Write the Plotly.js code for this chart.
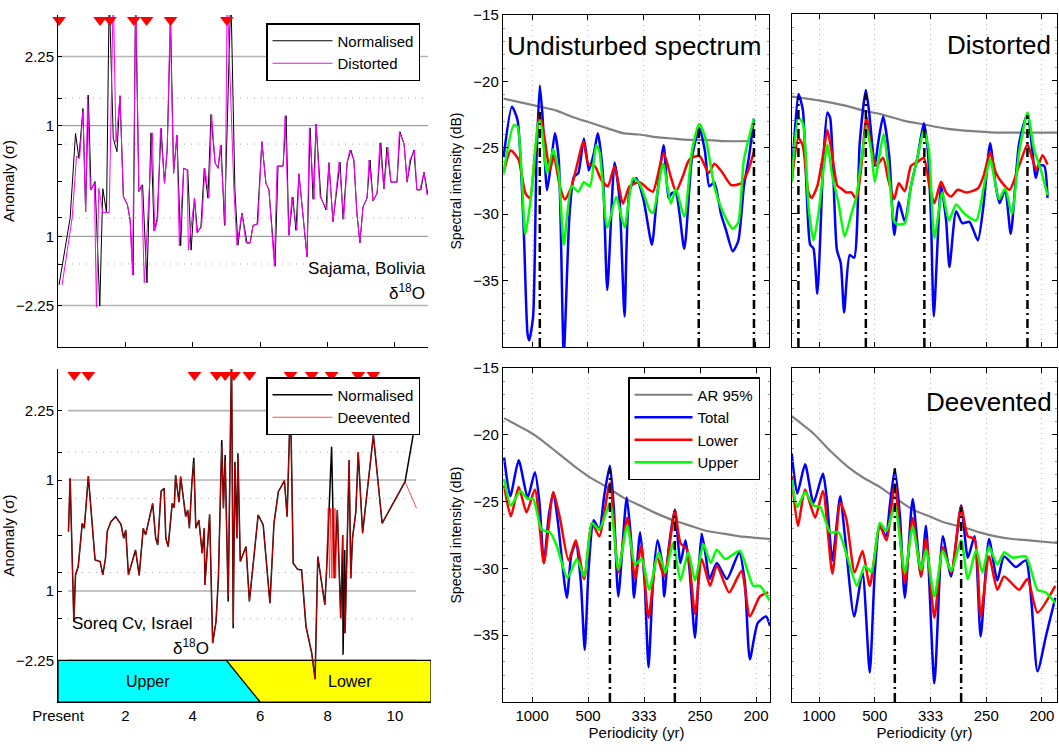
<!DOCTYPE html>
<html><head><meta charset="utf-8">
<script src="https://cdn.plot.ly/plotly-3.0.1.min.js"></script>
<style>html,body{margin:0;padding:0;background:#fff}#chart{width:1059px;height:752px}</style>
</head><body><div id="chart"></div>
<script>
// ---------------- Sajama (top-left) ----------------
const sajT = [0.03,0.36,0.52,0.62,0.74,0.82,0.90,0.98,1.10,1.24,1.33,1.44,1.52,1.64,1.75,1.84,1.94,2.06,2.14,2.23,2.30,2.40,2.51,2.64,2.76,2.85,2.94,3.06,3.16,3.24,3.34,3.43,3.53,3.64,3.73,3.85,3.95,4.05,4.14,4.24,4.34,4.45,4.54,4.66,4.75,4.84,4.94,5.13,5.25,5.34,5.46,5.61,5.70,5.79,5.91,6.05,6.17,6.26,6.44,6.53,6.68,6.77,6.85,6.97,7.06,7.15,7.39,7.48,7.57,7.66,7.80,7.95,8.04,8.16,8.37,8.46,8.58,8.69,8.78,8.87,8.96,9.05,9.17,9.26,9.35,9.47,9.58,9.67,9.76,9.88,10.06,10.15,10.27,10.36,10.47,10.56,10.65,10.77,10.86,10.98];
const sajNormalised = [-1.88,-0.67,0.86,0.41,1.31,-0.55,1.55,-0.16,-0.01,-2.26,-0.14,-0.57,3.4,0.77,0.53,1.54,-0.28,-0.43,-0.70,-1.70,3.4,-0.19,-0.07,-1.84,0.87,-0.90,-0.69,0.95,-0.04,0.56,2.95,0.14,0.83,-1.17,0.23,0.20,-1.25,-0.31,-0.93,-0.83,0.23,-0.31,1.20,0.33,0.23,0.65,-0.80,3.4,-0.16,-1.16,-0.58,-1.12,-1.12,-0.80,-0.78,0.71,-0.04,-0.16,-1.54,0.27,0.27,1.18,-0.98,-0.29,-0.89,0.13,-1.37,0.96,-0.33,1.03,-0.29,-0.52,0.33,-0.74,0.34,-0.69,0.33,0.56,0.38,-0.58,-1.12,-0.47,-0.31,0.38,-0.36,-0.22,0.69,-0.14,0.61,-0.02,-0.02,0.89,0.67,-0.02,0.38,0.56,-0.16,-0.16,0.16,-0.25];
const sajDistT = [0.12,0.42,0.55,0.64,0.74,0.82,0.88,0.96,1.08,1.14,1.21,1.33,1.52,1.64,1.72,1.84,1.94,2.06,2.14,2.21,2.31,2.40,2.48,2.56,2.80,2.87,2.96,3.04,3.16,3.24,3.33,3.43,3.53,3.60,3.73,3.83,3.87,4.05,4.12,4.26,4.36,4.48,4.56,4.66,4.75,4.82,4.96,5.02,5.22,5.31,5.46,5.58,5.70,5.79,5.93,6.05,6.17,6.26,6.42,6.50,6.68,6.74,6.85,6.94,7.09,7.15,7.39,7.46,7.60,7.66,7.78,7.98,8.04,8.16,8.34,8.48,8.58,8.66,8.78,8.87,8.96,9.05,9.17,9.23,9.35,9.47,9.55,9.67,9.79,9.88,10.06,10.13,10.27,10.36,10.44,10.58,10.65,10.74,10.86,10.95];
const sajDistorted = [-1.88,-0.67,0.45,0.41,1.25,-0.55,1.55,-0.16,-0.05,-2.28,-0.13,-0.57,-0.57,3.4,0.70,1.54,-0.28,-0.43,-0.70,-1.70,3.4,-0.19,-0.07,-1.84,0.87,-0.90,-0.69,0.95,-0.04,0.56,2.95,0.14,0.83,-1.17,0.23,0.20,-1.25,-0.31,-0.93,-0.83,0.23,-0.31,1.20,0.33,0.23,0.65,-0.80,3.4,-0.16,-1.16,-0.58,-1.12,-1.12,-0.80,-0.78,0.71,-0.04,-0.16,-1.54,0.27,0.27,1.18,-0.98,-0.29,-0.89,0.13,-1.37,0.96,-0.33,1.03,-0.29,-0.52,0.33,-0.74,0.34,-0.69,0.33,0.56,0.38,-0.58,-1.12,-0.47,-0.31,0.38,-0.36,-0.22,0.69,-0.14,0.61,-0.02,-0.02,0.89,0.67,-0.02,0.38,0.56,-0.16,-0.16,0.16,-0.25];
const sajEvents = [0.03,1.25,1.54,2.25,2.63,3.34,5.01];

// ---------------- Soreq (bottom-left) ----------------
const soreqT = [0.31,0.36,0.47,0.52,0.60,0.72,0.78,0.90,1.10,1.25,1.33,1.41,1.46,1.57,1.71,1.87,1.95,2.01,2.09,2.30,2.41,2.53,2.60,2.81,2.90,2.96,3.06,3.15,3.20,3.27,3.39,3.45,3.49,3.59,3.64,3.79,3.85,3.90,3.97,4.03,4.09,4.18,4.28,4.34,4.36,4.50,4.59,4.69,4.76,4.86,4.91,4.96,5.05,5.15,5.20,5.25,5.31,5.34,5.41,5.58,5.68,5.94,6.09,6.29,6.41,6.54,6.72,6.80,6.90,6.98,7.11,7.23,7.36,7.53,7.63,7.71,7.92,7.99,8.12,8.20,8.29,8.39,8.45,8.46,8.51,8.52,8.64,8.69,8.74,8.84,8.91,9.04,9.36,9.62,10.30,10.68];
const soreqNormalised = [0.07,1.03,-1.55,-0.71,-0.56,0.22,0.13,1.07,-0.44,-0.47,-0.71,-0.41,0.07,0.25,0.34,0.20,-0.05,0.10,-0.71,-0.26,-0.72,0.13,0.01,0.58,-0.05,-0.17,0.80,0.85,-0.05,-0.20,0.58,0.50,1.09,0.60,1.06,0.34,0.46,0.13,0.91,1.40,0.13,0.28,-0.32,0.13,-0.89,0.38,-1.94,-1.55,-0.77,1.72,0.49,1.45,-1.19,3.3,-1.67,1.33,-0.05,1.48,-0.47,-0.20,-1.19,0.37,0.19,-1.22,0.22,0.79,0.99,0.34,2.5,-0.50,-0.61,-0.62,-1.64,-2.12,-2.59,-0.38,-1.25,-0.38,1.60,-0.77,0.46,-1.49,0.01,-2.15,-0.26,-1.76,1.36,-0.77,-0.05,0.43,1.50,0.04,1.81,0.22,0.97,2.3];
const soreqDevT = [0.31,0.36,0.47,0.52,0.60,0.72,0.78,0.90,1.10,1.25,1.33,1.41,1.46,1.57,1.71,1.87,1.95,2.01,2.09,2.30,2.41,2.53,2.60,2.81,2.90,2.96,3.06,3.15,3.20,3.27,3.39,3.45,3.49,3.59,3.64,3.79,3.85,3.90,3.97,4.03,4.09,4.18,4.28,4.34,4.36,4.50,4.59,4.69,4.76,4.86,4.91,4.96,5.05,5.15,5.20,5.25,5.31,5.34,5.41,5.58,5.68,5.94,6.09,6.29,6.41,6.54,6.72,6.80,6.90,6.98,7.11,7.23,7.36,7.53,7.63,7.71,7.92,7.97,8.02,8.06,8.09,8.13,8.16,8.20,8.22,8.24,8.29,8.39,8.45,8.52,8.64,8.69,8.74,8.84,8.91,9.04,9.36,9.62,10.30,10.64];
const soreqDeevented = [0.07,1.03,-1.55,-0.71,-0.56,0.22,0.13,1.07,-0.44,-0.47,-0.71,-0.41,0.07,0.25,0.34,0.20,-0.05,0.10,-0.71,-0.26,-0.72,0.13,0.01,0.58,-0.05,-0.17,0.80,0.85,-0.05,-0.20,0.58,0.50,1.09,0.60,1.06,0.34,0.46,0.13,0.91,1.30,0.13,0.28,-0.32,0.13,-0.89,0.38,-1.94,-1.55,-0.77,1.60,0.49,1.35,-1.10,3.3,-1.60,1.25,-0.05,1.40,-0.47,-0.20,-1.19,0.37,0.19,-1.22,0.22,0.79,0.99,0.34,2.5,-0.50,-0.61,-0.62,-1.64,-2.12,-2.59,-0.38,-1.25,-0.62,0.49,-0.77,0.49,-0.77,0.49,-0.77,0.49,-0.77,0.46,-1.49,0.01,-1.76,1.36,-0.77,-0.05,0.43,1.50,0.04,1.81,0.22,0.97,0.49];
const soreqEvents = [0.48,0.90,4.05,4.71,4.96,5.22,5.68,6.90,7.53,8.12,8.91,9.36];
const zoneSplit = [5, 6]; // Upper/Lower boundary (kyr) at top and bottom of the band

// ---------------- Spectra ----------------
const periodTicks = [1,2,3,4,5];
const periodLabels = ['1000','500','333','250','200'];

// Undisturbed
const undArF = [0.49,1.14,1.44,1.74,2.04,2.33,2.63,2.93,3.23,3.52,3.82,4.12,4.42,4.98];
const undAr = [-21.3,-21.9,-22.2,-22.7,-23.1,-23.5,-23.9,-24.0,-24.2,-24.3,-24.4,-24.4,-24.5,-24.5];
const undTotalF = [0.49,0.64,0.74,0.85,0.92,0.95,1.02,1.08,1.14,1.19,1.27,1.34,1.41,1.48,1.57,1.67,1.75,1.83,1.93,2.02,2.11,2.18,2.27,2.35,2.48,2.57,2.66,2.75,2.87,3.00,3.15,3.23,3.36,3.45,3.51,3.58,3.73,3.87,4.00,4.10,4.18,4.27,4.39,4.48,4.60,4.70,4.80,4.89,4.98];
const undTotal = [-25.7,-21.9,-22.9,-31.0,-39.0,-39.5,-37.7,-25.9,-20.3,-22.7,-28.2,-26.2,-23.9,-25.9,-40.5,-30.2,-27.2,-26.9,-24.3,-26.7,-25.4,-23.9,-26.9,-35.7,-26.1,-28.9,-37.7,-28.2,-27.3,-28.9,-32.3,-29.2,-24.8,-28.8,-28.4,-28.4,-32.6,-25.7,-23.5,-25.2,-27.9,-27.6,-30.0,-31.2,-32.8,-32.0,-27.9,-25.7,-22.8];
const undLowerF = [0.49,0.62,0.76,0.88,0.96,1.05,1.14,1.23,1.32,1.39,1.50,1.59,1.71,1.83,1.92,2.01,2.13,2.24,2.36,2.48,2.63,2.75,2.93,3.08,3.17,3.36,3.49,3.58,3.70,3.82,4.00,4.17,4.27,4.42,4.57,4.74,4.86,4.98];
const undLower = [-26.9,-25.2,-25.9,-28.4,-28.8,-25.7,-22.4,-24.4,-26.7,-25.6,-27.9,-28.9,-27.9,-25.9,-24.5,-26.2,-26.4,-27.4,-27.9,-26.4,-29.2,-27.9,-27.6,-28.1,-28.3,-25.4,-27.2,-28.3,-27.2,-25.9,-25.6,-26.9,-26.2,-26.9,-27.8,-27.7,-26.9,-25.3];
const undUpperF = [0.49,0.67,0.74,0.88,0.99,1.11,1.15,1.27,1.38,1.48,1.57,1.71,1.83,1.93,2.04,2.15,2.21,2.35,2.51,2.66,2.81,2.93,3.11,3.17,3.35,3.49,3.58,3.73,3.87,4.00,4.12,4.27,4.42,4.60,4.70,4.80,4.98];
const undUpper = [-26.9,-23.3,-23.4,-31.5,-28.4,-23.2,-23.0,-26.9,-25.1,-26.9,-32.3,-27.9,-28.3,-27.6,-27.9,-24.8,-25.3,-31.0,-28.7,-31.0,-27.3,-27.7,-29.7,-29.9,-26.2,-29.2,-28.1,-30.2,-25.2,-23.2,-24.4,-27.9,-29.8,-31.1,-30.6,-25.9,-22.8];
const undEvents = [1.14,3.99,4.98];
const undEventTop = [-22.3,-23.6,-22.9];

// Distorted
const disArF = [0.51,1.02,1.49,1.84,2.09,2.51,2.89,3.28,3.76,4.17,4.59,5.10,5.27];
const disAr = [-21.2,-21.5,-21.9,-22.3,-22.5,-23.0,-23.3,-23.6,-23.8,-23.9,-23.9,-23.9,-23.9];
const disTotalF = [0.51,0.63,0.71,0.84,0.90,0.97,1.08,1.15,1.20,1.32,1.39,1.45,1.55,1.63,1.73,1.84,1.90,2.00,2.06,2.15,2.26,2.35,2.43,2.54,2.65,2.77,2.88,2.95,3.01,3.06,3.19,3.28,3.34,3.46,3.57,3.70,3.85,3.95,4.07,4.17,4.24,4.34,4.44,4.59,4.74,4.89,4.95,5.04,5.10];
const disTotal = [-27.6,-21.0,-22.2,-32.3,-32.6,-36.0,-25.7,-22.4,-22.8,-32.7,-33.7,-37.4,-33.1,-33.3,-24.7,-20.7,-22.4,-26.4,-24.7,-22.7,-25.7,-31.6,-29.1,-30.6,-27.9,-25.7,-23.2,-25.1,-30.5,-37.7,-27.9,-30.5,-34.0,-29.8,-30.7,-30.6,-32.0,-29.4,-24.7,-27.9,-29.2,-28.2,-31.5,-24.7,-22.5,-27.3,-26.4,-26.4,-28.8];
const disLowerF = [0.51,0.63,0.71,0.81,0.87,0.97,1.08,1.15,1.24,1.33,1.40,1.49,1.58,1.67,1.76,1.85,1.94,2.03,2.15,2.24,2.35,2.43,2.54,2.65,2.77,2.88,2.98,3.07,3.19,3.28,3.37,3.49,3.64,3.85,3.95,4.07,4.17,4.29,4.42,4.59,4.74,4.83,4.90,5.01,5.10];
const disLower = [-27.6,-24.3,-24.9,-28.4,-28.8,-27.9,-25.4,-23.7,-25.7,-27.9,-28.1,-28.4,-28.4,-28.9,-26.4,-22.7,-25.2,-26.4,-25.8,-27.4,-28.9,-27.7,-28.3,-26.4,-26.1,-25.8,-27.9,-29.2,-27.6,-28.4,-28.7,-28.2,-28.4,-28.1,-27.2,-25.4,-26.9,-27.7,-28.2,-26.4,-24.8,-25.9,-26.7,-25.6,-26.3];
const disUpperF = [0.51,0.63,0.71,0.81,0.90,0.99,1.08,1.15,1.24,1.35,1.46,1.58,1.67,1.76,1.85,1.94,2.00,2.08,2.16,2.27,2.35,2.43,2.54,2.65,2.77,2.88,2.97,3.07,3.21,3.33,3.46,3.61,3.82,3.96,4.07,4.23,4.34,4.46,4.59,4.74,4.86,4.98,5.10];
const disUpper = [-27.6,-22.8,-23.2,-29.4,-32.0,-30.0,-26.7,-24.8,-27.2,-29.2,-31.7,-30.0,-28.7,-25.9,-23.5,-25.4,-27.6,-25.7,-24.0,-27.7,-30.6,-30.8,-30.7,-27.9,-25.7,-23.7,-25.2,-31.8,-28.4,-30.5,-29.3,-30.0,-30.5,-27.9,-25.9,-28.9,-28.1,-30.0,-25.4,-22.4,-25.2,-26.7,-28.6];
const disEvents = [0.63,1.84,2.89,4.74];
const disEventTop = [-21.3,-21.0,-23.5,-22.6];

// Soreq normalised (bottom-middle)
const norArF = [0.50,0.92,1.14,1.44,1.74,2.04,2.33,2.63,2.93,3.23,3.52,3.82,4.12,4.42,4.71,5.25];
const norAr = [-18.75,-19.7,-20.3,-21.3,-22.3,-23.2,-23.9,-24.7,-25.3,-25.9,-26.4,-26.8,-27.2,-27.4,-27.6,-27.8];
const norTotalF = [0.50,0.61,0.76,0.92,1.05,1.13,1.21,1.30,1.38,1.46,1.62,1.70,1.78,1.87,1.94,2.01,2.10,2.20,2.29,2.39,2.46,2.54,2.69,2.77,2.82,2.93,3.01,3.08,3.16,3.24,3.32,3.36,3.44,3.55,3.65,3.74,3.81,3.91,3.98,4.03,4.10,4.17,4.30,4.48,4.70,4.80,4.89,5.03,5.18,5.25];
const norTotal = [-21.7,-24.6,-21.9,-24.7,-22.8,-25.0,-29.6,-26.0,-24.3,-26.5,-32.2,-29.0,-28.1,-31.0,-36.1,-30.0,-26.4,-27.1,-24.5,-22.3,-25.5,-32.1,-24.7,-28.0,-32.2,-27.3,-31.0,-37.4,-31.0,-27.9,-29.5,-32.1,-28.5,-25.6,-29.6,-27.9,-30.0,-35.2,-30.0,-27.4,-29.0,-30.8,-29.6,-30.8,-28.8,-31.0,-36.8,-34.1,-33.6,-34.3];
const norLowerF = [0.50,0.62,0.76,0.90,1.05,1.21,1.38,1.50,1.65,1.78,1.93,2.07,2.20,2.39,2.54,2.70,2.84,2.95,3.08,3.23,3.36,3.55,3.65,3.77,3.91,4.03,4.18,4.30,4.52,4.74,4.89,5.07,5.22];
const norLower = [-23.8,-26.1,-23.9,-25.8,-24.1,-29.6,-24.3,-26.3,-29.4,-27.9,-30.8,-26.6,-27.6,-23.6,-30.3,-26.2,-30.8,-28.3,-33.7,-29.1,-30.6,-25.7,-28.1,-28.6,-33.4,-29.3,-31.3,-29.8,-31.8,-30.2,-33.6,-32.1,-31.8];
const norUpperF = [0.50,0.62,0.79,0.92,1.02,1.17,1.32,1.44,1.63,1.80,1.93,2.07,2.20,2.39,2.54,2.70,2.84,2.96,3.09,3.26,3.38,3.52,3.65,3.79,3.91,4.06,4.19,4.30,4.45,4.71,4.95,5.07,5.24];
const norUpper = [-23.3,-25.3,-24.2,-24.8,-24.8,-27.1,-27.3,-28.3,-30.7,-29.3,-30.6,-26.6,-27.1,-25.1,-30.1,-26.8,-29.7,-29.3,-31.6,-28.8,-30.3,-28.1,-30.9,-28.8,-30.9,-28.2,-29.6,-28.6,-29.3,-28.7,-31.3,-31.3,-32.4];
const norEvents = [2.39,3.55];
const norEventTop = [-22.5,-25.7];

// Deevented (bottom-right)
const devArF = [0.51,0.90,1.20,1.49,1.79,2.09,2.39,2.68,2.98,3.28,3.58,3.88,4.17,4.47,4.77,5.27];
const devAr = [-18.6,-19.9,-21.2,-22.3,-23.2,-23.9,-24.8,-25.6,-26.1,-26.6,-26.9,-27.3,-27.6,-27.8,-27.9,-28.1];
const devTotalF = [0.51,0.61,0.75,0.90,1.07,1.14,1.24,1.38,1.46,1.63,1.78,1.91,2.00,2.09,2.20,2.27,2.36,2.45,2.54,2.68,2.83,2.92,3.07,3.22,3.37,3.55,3.67,3.79,3.90,4.05,4.20,4.32,4.53,4.71,4.92,5.07,5.24];
const devTotal = [-21.4,-24.4,-22.2,-25.1,-22.9,-24.8,-29.4,-24.6,-27.4,-33.6,-30.3,-37.8,-30.3,-26.8,-27.6,-25.3,-22.6,-26.0,-32.2,-24.8,-30.6,-26.8,-38.6,-27.6,-30.6,-25.3,-29.2,-27.6,-35.1,-27.8,-30.9,-29.1,-29.9,-29.4,-37.7,-35.1,-32.2];
const devLowerF = [0.51,0.62,0.75,0.93,1.07,1.24,1.38,1.49,1.64,1.78,1.91,2.09,2.21,2.36,2.54,2.68,2.83,2.92,3.07,3.22,3.37,3.55,3.67,3.79,3.90,4.05,4.20,4.32,4.59,4.74,4.92,5.24];
const devLower = [-23.1,-26.8,-24.1,-26.2,-24.2,-30.4,-25.1,-26.3,-30.3,-28.7,-31.3,-26.8,-27.9,-23.7,-31.1,-26.2,-30.6,-27.8,-33.7,-28.4,-30.3,-25.4,-27.6,-27.8,-33.6,-29.1,-31.6,-30.6,-31.6,-30.8,-33.3,-31.3];
const devUpperF = [0.51,0.61,0.75,0.90,1.02,1.20,1.35,1.49,1.68,1.82,1.94,2.09,2.21,2.36,2.54,2.68,2.83,2.92,3.07,3.22,3.37,3.55,3.67,3.82,3.93,4.05,4.20,4.32,4.47,4.71,4.92,5.07,5.24];
const devUpper = [-23.4,-25.4,-24.3,-25.3,-25.4,-27.3,-27.3,-28.9,-31.3,-29.8,-30.3,-26.6,-27.2,-25.3,-30.3,-26.9,-30.1,-28.6,-32.1,-28.7,-30.2,-27.9,-30.8,-28.6,-30.3,-28.4,-29.7,-28.8,-29.2,-29.1,-31.6,-31.8,-32.6];
const devEvents = [2.36,3.55];
const devEventTop = [-22.5,-25.4];

// ---------------- helpers ----------------
const W = 1059, H = 752;
const px = x => x / W;
const py = y => 1 - y / H;
const FONT = 'Liberation Sans, Arial, Helvetica, sans-serif';
const BLUE = '#0000ff', RED = '#ff0000', GREEN = '#00ff00', GRAY = '#808080';

const traces = [];
function addLine(x, y, ax, color, width, name, legend, extra) {
  const t = Object.assign({
    type: 'scatter', mode: 'lines', x: x, y: y,
    xaxis: 'x' + ax, yaxis: 'y' + ax,
    line: {color: color, width: width},
    name: name || 'event', showlegend: !!legend, hoverinfo: 'skip'
  }, extra || {});
  if (legend) t.legend = legend;
  traces.push(t);
}

// left panels
addLine(sajT, sajNormalised, '', '#000000', 1, 'Normalised', 'legend');
addLine(sajDistT, sajDistorted, '', '#ff00ff', 1, 'Distorted', 'legend');
traces.push({type:'scatter', mode:'markers', x: sajEvents, y: sajEvents.map(() => 2.91),
  xaxis:'x', yaxis:'y', marker:{symbol:'triangle-down', size:12, color:'#ff0000'},
  cliponaxis:false, showlegend:false, hoverinfo:'skip', name:'events'});

addLine(soreqT, soreqNormalised, '2', '#000000', 1.5, 'Normalised', 'legend2');
addLine(soreqDevT, soreqDeevented, '2', '#ff0000', 0.7, 'Deevented', 'legend2');
traces.push({type:'scatter', mode:'markers', x: soreqEvents, y: soreqEvents.map(() => 2.89),
  xaxis:'x2', yaxis:'y2', marker:{symbol:'triangle-down', size:12, color:'#ff0000'},
  cliponaxis:false, showlegend:false, hoverinfo:'skip', name:'events'});

// spectral panels
const spectra = [
  {ax:'3', ar:[undArF,undAr], tot:[undTotalF,undTotal], low:[undLowerF,undLower], up:[undUpperF,undUpper], ev:undEvents, evTop:undEventTop},
  {ax:'4', ar:[disArF,disAr], tot:[disTotalF,disTotal], low:[disLowerF,disLower], up:[disUpperF,disUpper], ev:disEvents, evTop:disEventTop},
  {ax:'5', ar:[norArF,norAr], tot:[norTotalF,norTotal], low:[norLowerF,norLower], up:[norUpperF,norUpper], ev:norEvents, evTop:norEventTop, legend:'legend3'},
  {ax:'6', ar:[devArF,devAr], tot:[devTotalF,devTotal], low:[devLowerF,devLower], up:[devUpperF,devUpper], ev:devEvents, evTop:devEventTop}
];
const spl = {shape:'spline', smoothing:0.6};
spectra.forEach(s => {
  addLine(s.ar[0], s.ar[1], s.ax, GRAY, 2.2, 'AR 95%', s.legend, {line:Object.assign({color:GRAY, width:2.2}, spl)});
  addLine(s.tot[0], s.tot[1], s.ax, BLUE, 2.5, 'Total', s.legend, {line:Object.assign({color:BLUE, width:2.5}, spl)});
  addLine(s.low[0], s.low[1], s.ax, RED, 2.5, 'Lower', s.legend, {line:Object.assign({color:RED, width:2.5}, spl)});
  addLine(s.up[0], s.up[1], s.ax, GREEN, 2.5, 'Upper', s.legend, {line:Object.assign({color:GREEN, width:2.5}, spl)});
  s.ev.forEach((f, i) => {
    addLine([f, f], [-40, s.evTop[i]], s.ax, '#000000', 2.5, 'event', null, {line:{color:'#000000', width:2.5, dash:'9px,4px,2px,4px'}});
  });
});

// ---------------- shapes (gridlines, band) ----------------
const shapes = [];
const solidGrid = [-2.25, -1, 1, 2.25];
const dottedGrid = [-1.5, -0.667, 0.667, 1.5];
[['', 0, 10.98], ['2', 0.3, 10.62]].forEach(([a, x0, x1]) => {
  solidGrid.forEach(v => shapes.push({type:'line', xref:'x'+a, yref:'y'+a, x0:x0, x1:x1, y0:v, y1:v, layer:'below',
    line:{color: Math.abs(v) > 2 ? '#b4b4b4' : '#8a8a8a', width: Math.abs(v) > 2 ? 1.6 : 1}}));
  dottedGrid.forEach(v => shapes.push({type:'line', xref:'x'+a, yref:'y'+a, x0:x0, x1:x1, y0:v, y1:v, layer:'below',
    line:{color:'#a8a8a8', width:1, dash:'1px,6px'}}));
});
// Upper / Lower band
const bandTop = -2.25, bandBot = -3, xEnd = 11.07;
shapes.push({type:'path', xref:'x2', yref:'y2', layer:'below',
  path:`M0,${bandTop} L${zoneSplit[0]},${bandTop} L${zoneSplit[1]},${bandBot} L0,${bandBot} Z`,
  fillcolor:'#00ffff', line:{color:'#000', width:1.2}});
shapes.push({type:'path', xref:'x2', yref:'y2', layer:'below',
  path:`M${zoneSplit[0]},${bandTop} L${xEnd},${bandTop} L${xEnd},${bandBot} L${zoneSplit[1]},${bandBot} Z`,
  fillcolor:'#ffff00', line:{color:'#000', width:1.2}});

// ---------------- axes ----------------
const tf = {family:FONT, size:15, color:'#000'};
const leftY = {
  range:[-3, 3], tickmode:'array',
  tickvals:[-2.25,-1,1,2.25],
  ticktext:['\u22122.25','1','1','2.25'],
  minor:{ticks:'inside', ticklen:4, tickcolor:'#000', tickmode:'array', tickvals:[-1.5,-0.667,0,0.667,1.5]},
  ticks:'inside', ticklen:4, tickcolor:'#000', showline:true, linecolor:'#000', linewidth:1,
  showgrid:false, zeroline:false, tickfont:tf, automargin:false,
  title:{text:'Anomaly (\u03c3)', font:{family:FONT, size:15}, standoff:6}
};
const specX = (dom, labels, range) => {
  const o = {
    domain:dom, range:range, tickmode:'array', tickvals:periodTicks, ticktext:periodLabels,
    showticklabels:labels, ticks:'inside', ticklen:5, tickcolor:'#000', mirror:'ticks',
    showline:true, linecolor:'#000', linewidth:1.2, showgrid:true, gridcolor:'#b8b8b8', griddash:'1px,4px', gridwidth:1,
    zeroline:false, tickfont:tf, automargin:false
  };
  if (labels) o.title = {text:'Periodicity (yr)', font:{family:FONT, size:15}, standoff:2};
  return o;
};
const specY = (dom, labels, anchor) => {
  const o = {
    domain:dom, range:[-40, -15], tickmode:'array', tickvals:[-35,-30,-25,-20,-15],
    showticklabels:labels, ticks:'inside', ticklen:5, tickcolor:'#000', mirror:'ticks',
    minor:{ticks:'inside', ticklen:2, dtick:1, tick0:-40, tickcolor:'#999'},
    showline:true, linecolor:'#000', linewidth:1.2, showgrid:false, zeroline:false, tickfont:tf, automargin:false,
    anchor:anchor
  };
  if (labels) o.title = {text:'Spectral intensity (dB)', font:{family:FONT, size:14}, standoff:8};
  return o;
};

const legendBase = {xanchor:'left', yanchor:'top', bgcolor:'#ffffff', bordercolor:'#000', borderwidth:1.5,
  font:{family:FONT, size:15, color:'#000'}, itemwidth:60, tracegroupgap:0};

const layout = {
  width:W, height:H, margin:{l:0, r:0, t:0, b:0},
  paper_bgcolor:'#fff', plot_bgcolor:'rgba(0,0,0,0)', font:{family:FONT, color:'#000'},
  xaxis:{domain:[px(58), px(428)], range:[0, 10.98], tickmode:'array', tickvals:[0,2,4,6,8,10],
    showticklabels:false, ticks:'inside', ticklen:5, tickcolor:'#000', showline:true, linecolor:'#000',
    showgrid:false, zeroline:false, anchor:'y', automargin:false},
  yaxis:Object.assign({}, leftY, {domain:[py(347), py(15)], anchor:'x'}),
  xaxis2:{domain:[px(58), px(431)], range:[0, 11.07], tickmode:'array', tickvals:[0,2,4,6,8,10],
    ticktext:['Present','2','4','6','8','10'], ticks:'', showline:true, linecolor:'#000',
    showgrid:false, zeroline:false, anchor:'y2', tickfont:tf, automargin:false},
  yaxis2:Object.assign({}, leftY, {domain:[py(702), py(369)], anchor:'x2'}),
  xaxis3:Object.assign(specX([px(503), px(769)], false, [0.48, 5.25]), {anchor:'y3'}),
  yaxis3:specY([py(347), py(15)], true, 'x3'),
  xaxis4:Object.assign(specX([px(792), px(1057)], false, [0.515, 5.27]), {anchor:'y4'}),
  yaxis4:specY([py(347), py(14)], false, 'x4'),
  xaxis5:Object.assign(specX([px(503), px(770)], true, [0.48, 5.25]), {anchor:'y5'}),
  yaxis5:specY([py(702), py(368)], true, 'x5'),
  xaxis6:Object.assign(specX([px(792), px(1057)], true, [0.515, 5.27]), {anchor:'y6'}),
  yaxis6:specY([py(702), py(368)], false, 'x6'),
  legend:Object.assign({}, legendBase, {x:px(266), y:py(23)}),
  legend2:Object.assign({}, legendBase, {x:px(266), y:py(377)}),
  legend3:Object.assign({}, legendBase, {x:px(628), y:py(377), itemwidth:58}),
  shapes:shapes,
  annotations:[
    {xref:'paper', yref:'paper', x:px(428), y:py(268), xanchor:'right', yanchor:'middle', showarrow:false,
      text:'Sajama, Bolivia', font:{family:FONT, size:17}},
    {xref:'paper', yref:'paper', x:px(427), y:py(292), xanchor:'right', yanchor:'middle', showarrow:false,
      text:'\u03b4<sup>18</sup>O', font:{family:FONT, size:17}},
    {xref:'paper', yref:'paper', x:px(70), y:py(623), xanchor:'left', yanchor:'middle', showarrow:false,
      text:'Soreq Cv, Israel', font:{family:FONT, size:17}},
    {xref:'paper', yref:'paper', x:px(211), y:py(647), xanchor:'right', yanchor:'middle', showarrow:false,
      text:'\u03b4<sup>18</sup>O', font:{family:FONT, size:17}},
    {xref:'x2', yref:'y2', x:2.66, y:-2.63, showarrow:false, text:'Upper', font:{family:FONT, size:16}},
    {xref:'x2', yref:'y2', x:8.66, y:-2.63, showarrow:false, text:'Lower', font:{family:FONT, size:16}},
    {xref:'paper', yref:'paper', x:px(505), y:py(46), xanchor:'left', yanchor:'middle', showarrow:false,
      text:'Undisturbed spectrum', font:{family:FONT, size:26}},
    {xref:'paper', yref:'paper', x:px(1053), y:py(45), xanchor:'right', yanchor:'middle', showarrow:false,
      text:'Distorted', font:{family:FONT, size:26}},
    {xref:'paper', yref:'paper', x:px(1054), y:py(402), xanchor:'right', yanchor:'middle', showarrow:false,
      text:'Deevented', font:{family:FONT, size:26}}
  ]
};

Plotly.newPlot('chart', traces, layout, {staticPlot:true, displayModeBar:false});
</script></body></html>
